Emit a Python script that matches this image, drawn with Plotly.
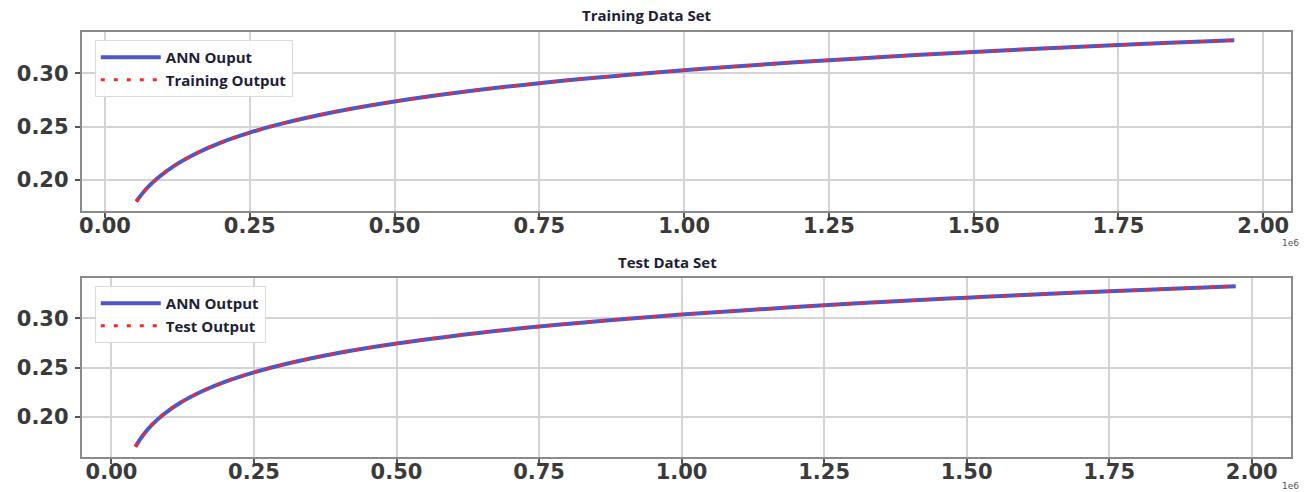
import plotly.graph_objects as go

# Training set: input (in units of 1e6) and network / target outputs
x_train_e6 = [0.054, 0.07, 0.09, 0.12, 0.16, 0.20, 0.25, 0.30, 0.40, 0.50, 0.60,
              0.75, 0.90, 1.00, 1.10, 1.25, 1.40, 1.50, 1.60, 1.75, 1.85, 1.95]
ann_train = [0.180, 0.191, 0.2015, 0.2136, 0.2257, 0.2352, 0.2445, 0.2522, 0.2643,
             0.2737, 0.2814, 0.2908, 0.2985, 0.3029, 0.3069, 0.3123, 0.3171, 0.3200,
             0.3227, 0.3265, 0.3288, 0.3310]
target_train = ann_train[:]

# Test set
x_test_e6 = [0.042, 0.055, 0.07, 0.09, 0.12, 0.16, 0.20, 0.25, 0.30, 0.40, 0.50, 0.60,
             0.75, 0.90, 1.00, 1.10, 1.25, 1.40, 1.50, 1.60, 1.75, 1.85, 1.972]
ann_test = [0.1694, 0.1808, 0.1911, 0.2017, 0.2139, 0.2261, 0.2356, 0.2450, 0.2528,
            0.2650, 0.2744, 0.2821, 0.2916, 0.2994, 0.3038, 0.3078, 0.3133, 0.3181,
            0.3210, 0.3237, 0.3275, 0.3299, 0.3326]
target_test = ann_test[:]

x_ticks = [0.0, 0.25, 0.5, 0.75, 1.0, 1.25, 1.5, 1.75, 2.0]
y_ticks = [0.20, 0.25, 0.30]

W, H = 1305, 492
BLUE = "#5056c6"
RED = "#ff2424"

fig = go.Figure()

fig.add_trace(go.Scatter(x=x_train_e6, y=ann_train, mode="lines", name="ANN Ouput",
                         line=dict(color=BLUE, width=4, shape="spline"),
                         xaxis="x", yaxis="y", legend="legend"))
fig.add_trace(go.Scatter(x=x_train_e6, y=target_train, mode="lines", name="Training Output",
                         line=dict(color=RED, width=3, dash="4px,9px", shape="spline"),
                         xaxis="x", yaxis="y", legend="legend"))
fig.add_trace(go.Scatter(x=x_test_e6, y=ann_test, mode="lines", name="ANN Output",
                         line=dict(color=BLUE, width=4, shape="spline"),
                         xaxis="x2", yaxis="y2", legend="legend2"))
fig.add_trace(go.Scatter(x=x_test_e6, y=target_test, mode="lines", name="Test Output",
                         line=dict(color=RED, width=3, dash="4px,9px", shape="spline"),
                         xaxis="x2", yaxis="y2", legend="legend2"))

tick_font = dict(family="DejaVu Sans", size=21, color="#3a3a3a", weight="bold")
axis_common = dict(showgrid=True, gridcolor="#d4d4d4", gridwidth=1.5,
                   showline=True, mirror=True, linecolor="#8a8a8a", linewidth=2,
                   ticks="outside", ticklen=5, tickcolor="#555555", tickwidth=1.5,
                   zeroline=False, tickfont=tick_font)
xaxis_extra = dict(ticklabelstandoff=-10)
yaxis_extra = dict(ticklabelstandoff=2)

xdom = [79 / W, 1291 / W]
legend_font = dict(family="Open Sans", size=15, color="#1e1e36", weight="bold")
fig.update_layout(
    width=W, height=H,
    margin=dict(l=0, r=0, t=0, b=0),
    paper_bgcolor="white", plot_bgcolor="white",
    xaxis=dict(domain=xdom, range=[-0.040, 2.048], tickvals=x_ticks,
               ticktext=[f"{v:.2f}" for v in x_ticks], anchor="y",
               **axis_common, **xaxis_extra),
    yaxis=dict(domain=[1 - 211 / H, 1 - 32 / H], range=[0.1711, 0.3387], tickvals=y_ticks,
               ticktext=[f"{v:.2f}" for v in y_ticks], anchor="x",
               **axis_common, **yaxis_extra),
    xaxis2=dict(domain=xdom, range=[-0.052, 2.069], tickvals=x_ticks,
                ticktext=[f"{v:.2f}" for v in x_ticks], anchor="y2",
                **axis_common, **xaxis_extra),
    yaxis2=dict(domain=[1 - 457 / H, 1 - 278 / H], range=[0.159, 0.341], tickvals=y_ticks,
                ticktext=[f"{v:.2f}" for v in y_ticks], anchor="x2",
                **axis_common, **yaxis_extra),
    legend=dict(x=92 / W, y=1 - 40 / H, xanchor="left", yanchor="top",
                bgcolor="rgba(255,255,255,0.9)", bordercolor="#dcdcdc", borderwidth=1,
                font=legend_font, tracegroupgap=0, itemwidth=60),
    legend2=dict(x=92 / W, y=1 - 286 / H, xanchor="left", yanchor="top",
                 bgcolor="rgba(255,255,255,0.9)", bordercolor="#dcdcdc", borderwidth=1,
                 font=legend_font, tracegroupgap=0, itemwidth=60),
    showlegend=True,
)

title_font = dict(family="Open Sans", size=15, color="#1e1e36", weight="bold")
fig.add_annotation(text="Training Data Set", x=645 / W, y=1 - 15 / H, xref="paper", yref="paper",
                   yanchor="middle", showarrow=False, font=title_font)
fig.add_annotation(text="Test Data Set", x=666 / W, y=1 - 262 / H, xref="paper", yref="paper",
                   yanchor="middle", showarrow=False, font=title_font)

# offset labels for the x axes
off_font = dict(family="DejaVu Sans", size=9, color="#555555")
fig.add_annotation(text="1e6", x=1 - 4 / W, y=1 - 243 / H, xref="paper", yref="paper",
                   xanchor="right", yanchor="middle", showarrow=False, font=off_font)
fig.add_annotation(text="1e6", x=1 - 4 / W, y=1 - 486 / H, xref="paper", yref="paper",
                   xanchor="right", yanchor="middle", showarrow=False, font=off_font)

fig.write_html("out.html")
